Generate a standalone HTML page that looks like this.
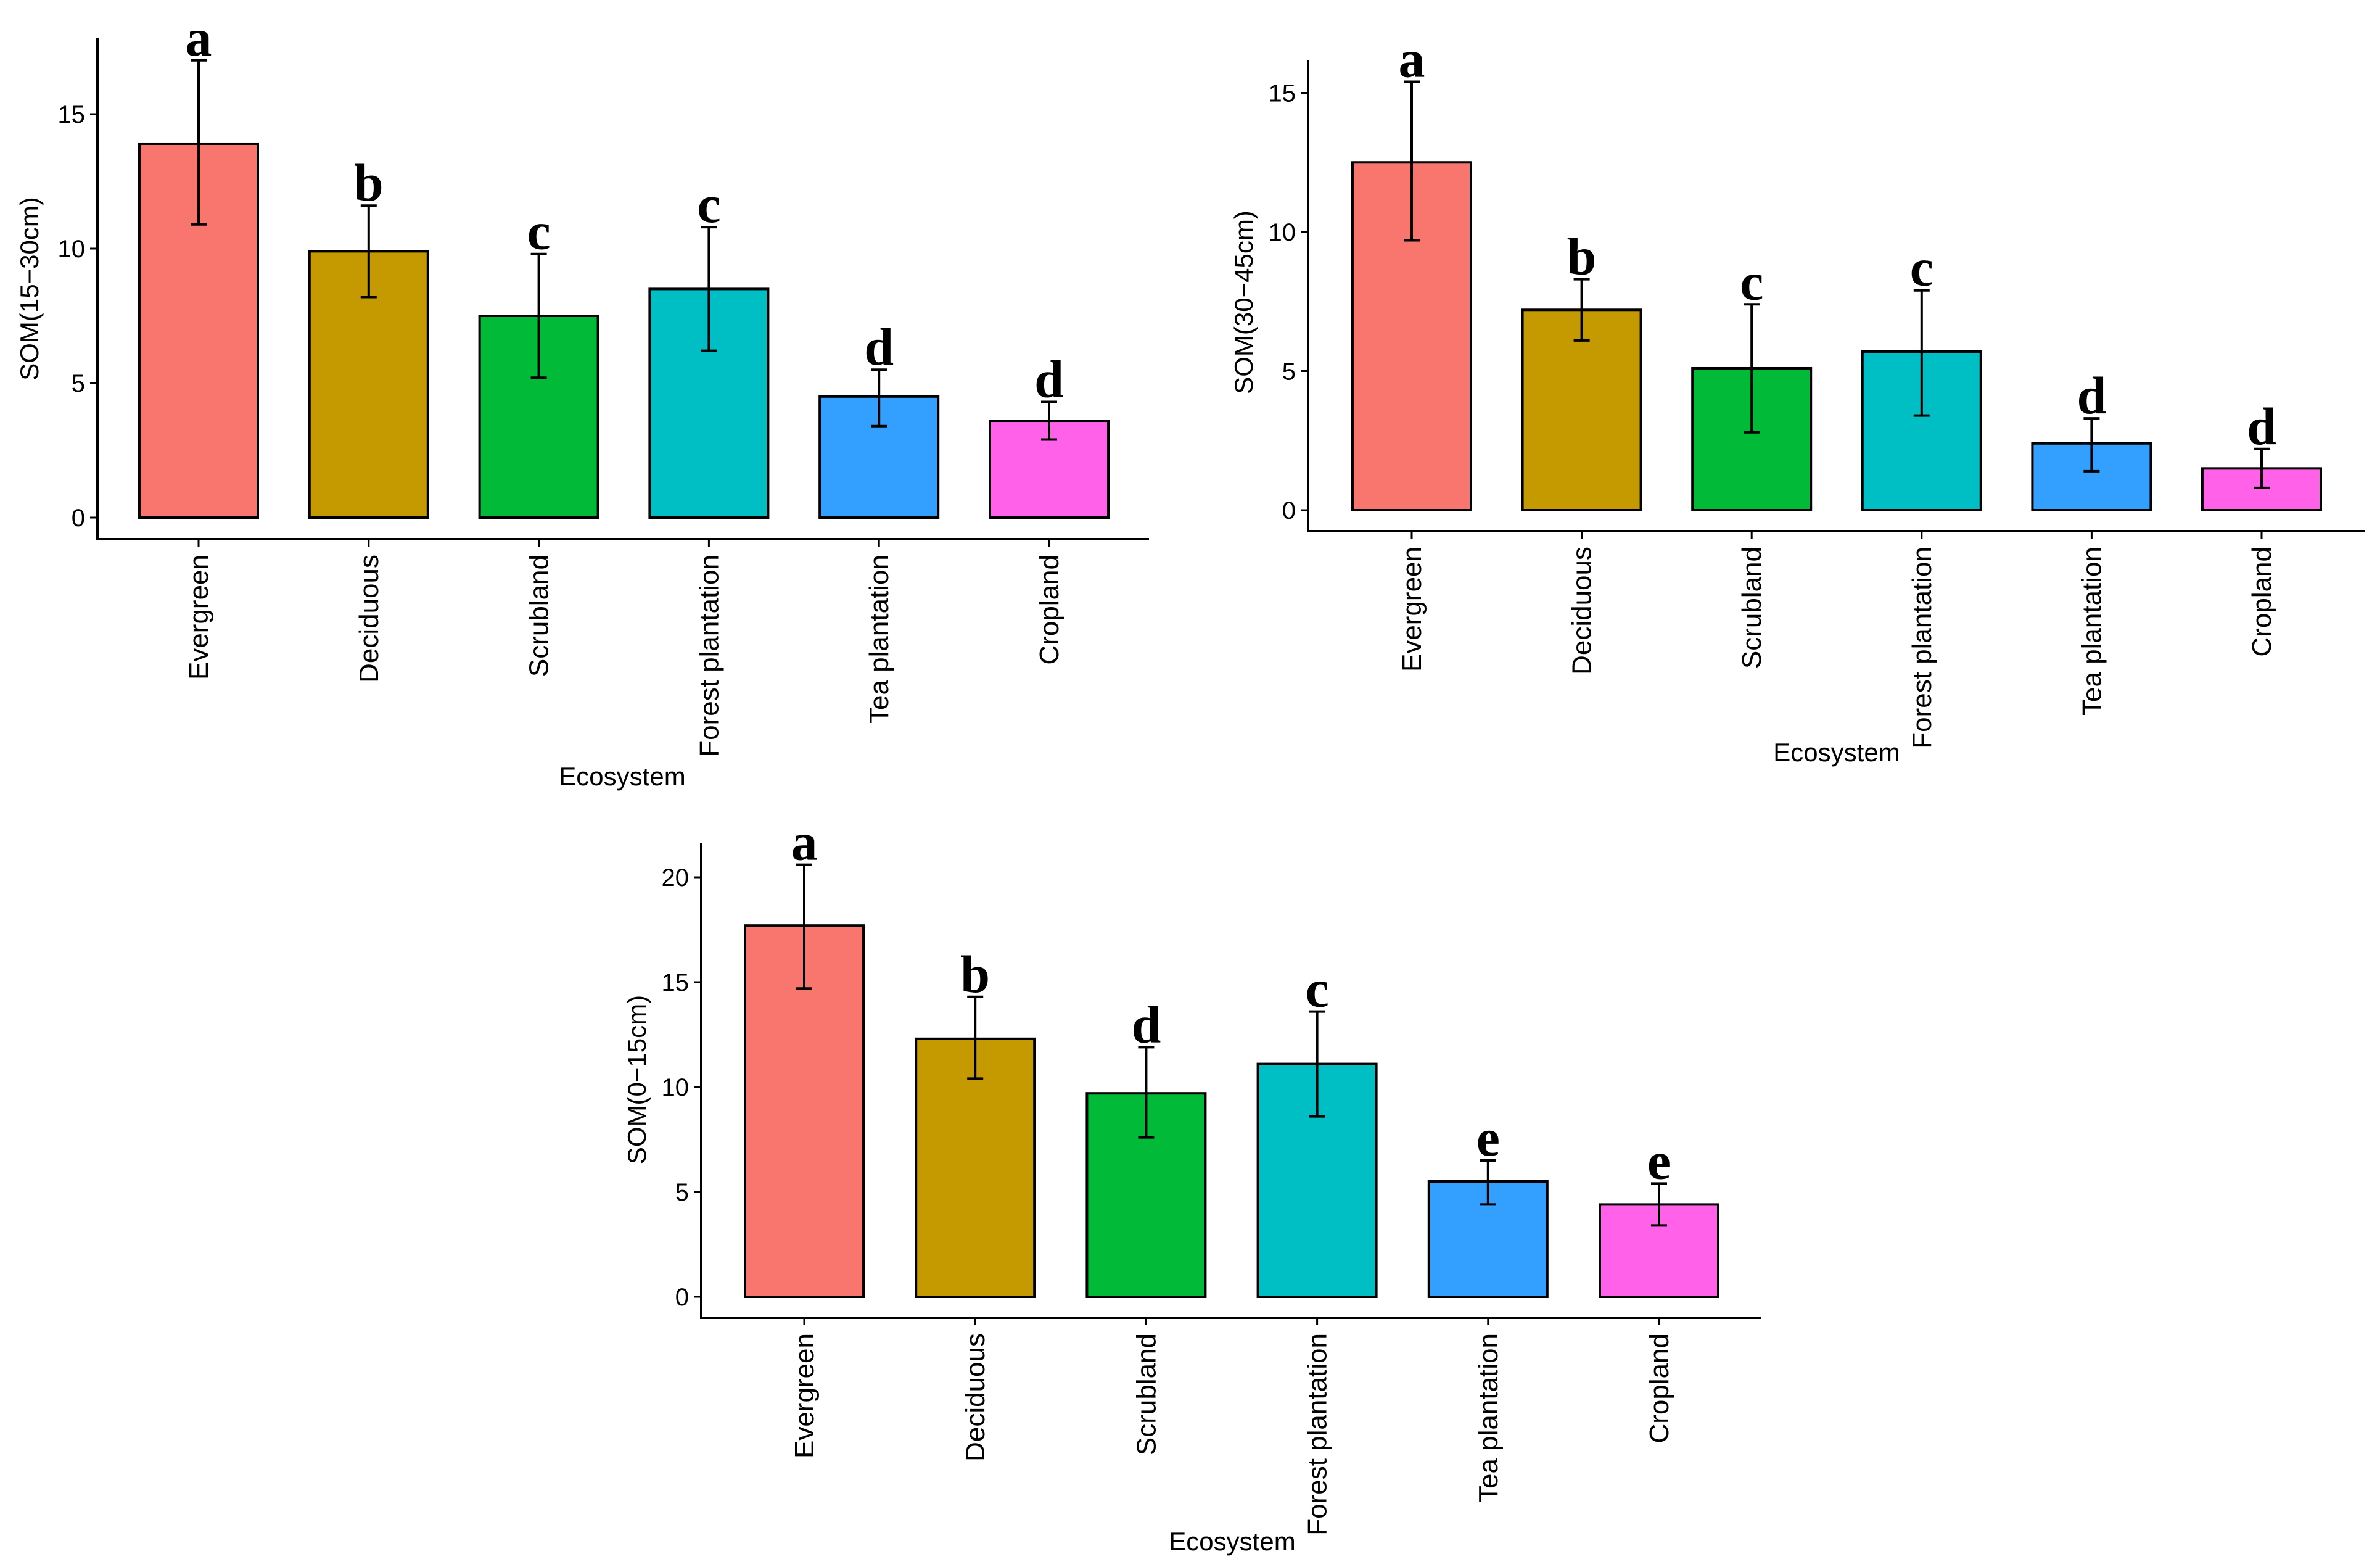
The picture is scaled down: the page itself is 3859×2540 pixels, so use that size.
<!DOCTYPE html>
<html><head><meta charset="utf-8"><style>
html,body{margin:0;padding:0;background:#fff;}
svg{display:block;}
text{font-family:"Liberation Sans",sans-serif;fill:#000;}
.sig{font-family:"Liberation Serif",serif;font-weight:bold;}
</style></head>
<body>
<svg id="fig" width="3859" height="2540" viewBox="0 0 3859 2540" xmlns="http://www.w3.org/2000/svg"></svg>
<script>
const categories = ["Evergreen","Deciduous","Scrubland","Forest plantation","Tea plantation","Cropland"];
const colors = ["#F8766D","#C49A00","#00BA38","#00BFC4","#33A0FF","#FF61E8"];
// Panel 1: SOM(15-30cm)
const p1Mean = [13.9, 9.9, 7.5, 8.5, 4.5, 3.6];
const p1Low  = [10.9, 8.2, 5.2, 6.2, 3.4, 2.9];
const p1High = [17.0, 11.6, 9.8, 10.8, 5.5, 4.3];
const p1Sig  = ["a","b","c","c","d","d"];
const p1Ticks = [0,5,10,15];
// Panel 2: SOM(30-45cm)
const p2Mean = [12.5, 7.2, 5.1, 5.7, 2.4, 1.5];
const p2Low  = [9.7, 6.1, 2.8, 3.4, 1.4, 0.8];
const p2High = [15.4, 8.3, 7.4, 7.9, 3.3, 2.2];
const p2Sig  = ["a","b","c","c","d","d"];
const p2Ticks = [0,5,10,15];
// Panel 3: SOM(0-15cm)
const p3Mean = [17.7, 12.3, 9.7, 11.1, 5.5, 4.4];
const p3Low  = [14.7, 10.4, 7.6, 8.6, 4.4, 3.4];
const p3High = [20.6, 14.3, 11.9, 13.6, 6.5, 5.4];
const p3Sig  = ["a","b","d","c","e","e"];
const p3Ticks = [0,5,10,15,20];

const NS = "http://www.w3.org/2000/svg";
const svg = document.getElementById("fig");
function mk(tag, attrs, parent){
  const e = document.createElementNS(NS, tag);
  for (const k in attrs) e.setAttribute(k, attrs[k]);
  (parent||svg).appendChild(e);
  return e;
}
function panel(cfg, mean, low, high, sig, ticks){
  const g = mk("g", {});
  
  
  const y = v => cfg.y0 - v * cfg.unit;
  const x = i => cfg.c0 + i * cfg.step;
  const ya = mk("line", {x1:cfg.ax, y1:cfg.top, x2:cfg.ax, y2:cfg.axy, stroke:"#000","stroke-width":4}, g);
  
  
  const xa = mk("line", {x1:cfg.ax-2, y1:cfg.axy, x2:cfg.right, y2:cfg.axy, stroke:"#000","stroke-width":4}, g);
  
  
  ticks.forEach(t => {
    const tk = mk("line", {x1:cfg.ax-12, y1:y(t), x2:cfg.ax, y2:y(t), stroke:"#000","stroke-width":3}, g);
    
    
    const tl = mk("text", {x:cfg.ax-20, y:y(t)+14, "text-anchor":"end","font-size":40}, g);
    
    
    tl.textContent = t;
  });
  categories.forEach((c, i) => {
    const cx = x(i);
    const bar = mk("rect", {x:cx-cfg.bw/2, y:y(mean[i]), width:cfg.bw, height:y(0)-y(mean[i]), fill:colors[i], stroke:"#000","stroke-width":4}, g);
    
    
    const eb = mk("path", {d:`M${cx},${y(low[i])}V${y(high[i])}M${cx-13},${y(low[i])}H${cx+13}M${cx-13},${y(high[i])}H${cx+13}`, stroke:"#000","stroke-width":4, fill:"none"}, g);
    
    
    const st = mk("text", {x:cx, y:y(high[i])-8, "text-anchor":"middle","font-size":86, class:"sig"}, g);
    
    
    st.textContent = sig[i];
    const xt = mk("line", {x1:cx, y1:cfg.axy, x2:cx, y2:cfg.axy+12, stroke:"#000","stroke-width":3}, g);
    
    
    const xl = mk("text", {x:0, y:0, "text-anchor":"end","font-size":44, transform:`translate(${cx+15},${cfg.axy+25}) rotate(-90)`}, g);
    
    
    xl.textContent = c;
  });
  const yt = mk("text", {x:0, y:0, "text-anchor":"middle","font-size":42, transform:`translate(${cfg.ytx},${cfg.yty}) rotate(-90)`}, g);
  
  
  yt.textContent = cfg.ytitle;
  const xtt = mk("text", {x:cfg.xtx, y:cfg.xty, "text-anchor":"middle","font-size":42}, g);
  
  
  xtt.textContent = "Ecosystem";
}
panel({name:"panel-15-30cm", ax:158, top:62, axy:874, right:1863, y0:839, unit:43.6, c0:322, step:275.8, bw:192,
  ytx:62, yty:468, ytitle:"SOM(15\u221230cm)", xtx:1009, xty:1273}, p1Mean, p1Low, p1High, p1Sig, p1Ticks);
panel({name:"panel-30-45cm", ax:2121, top:98, axy:861, right:3834, y0:827, unit:45.1, c0:2289, step:275.6, bw:192,
  ytx:2031, yty:490, ytitle:"SOM(30\u221245cm)", xtx:2978, xty:1234}, p2Mean, p2Low, p2High, p2Sig, p2Ticks);
panel({name:"panel-0-15cm", ax:1137, top:1366, axy:2136, right:2855, y0:2102, unit:34.0, c0:1304, step:277.2, bw:192,
  ytx:1047, yty:1750, ytitle:"SOM(0\u221215cm)", xtx:1998, xty:2513}, p3Mean, p3Low, p3High, p3Sig, p3Ticks);
</script>
</body></html>
